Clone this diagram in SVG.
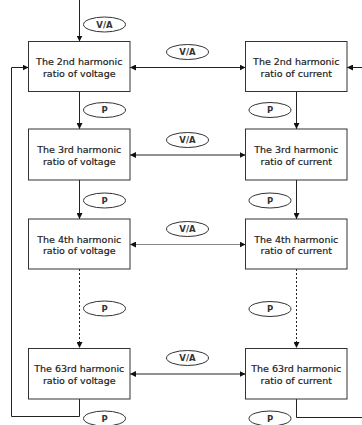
<svg xmlns="http://www.w3.org/2000/svg" width="362" height="425" viewBox="0 0 362 425">
<style>
.box{fill:#fff;stroke:#333;stroke-width:1}
.lbl{font-family:"DejaVu Sans",sans-serif;font-size:9.5px;fill:#222;stroke:#222;stroke-width:0.2;text-anchor:middle}
.tag{fill:#fff;stroke:#333;stroke-width:1}
.tt{font-family:"DejaVu Sans",sans-serif;font-size:8.5px;font-weight:bold;fill:#333;text-anchor:middle}
.ln{fill:none;stroke:#222;stroke-width:1}
.lg{fill:none;stroke:#888;stroke-width:1}
.dot{fill:none;stroke:#222;stroke-width:1;stroke-dasharray:2,2}
</style>
<defs>
<marker id="ah" viewBox="0 0 10 10" refX="10" refY="5" markerWidth="6" markerHeight="6" markerUnits="userSpaceOnUse" orient="auto-start-reverse">
<path d="M0,0 L10,5 L0,10 z" fill="#111"/>
</marker>
</defs>
<rect width="362" height="425" fill="#fff"/>
<g id="connectors">
<line class="ln" x1="79.5" y1="0" x2="79.5" y2="41.5" marker-end="url(#ah)"/>
<line class="ln" x1="79.5" y1="91.5" x2="79.5" y2="129" marker-end="url(#ah)"/>
<line class="ln" x1="296.5" y1="91.5" x2="296.5" y2="129" marker-end="url(#ah)"/>
<line class="ln" x1="79.5" y1="180" x2="79.5" y2="219" marker-end="url(#ah)"/>
<line class="ln" x1="296.5" y1="180" x2="296.5" y2="219" marker-end="url(#ah)"/>
<line class="dot" x1="79.5" y1="269" x2="79.5" y2="348" marker-end="url(#ah)"/>
<line class="dot" x1="296.5" y1="269" x2="296.5" y2="348" marker-end="url(#ah)"/>
<line class="ln" x1="130" y1="67.5" x2="245.5" y2="67.5" marker-start="url(#ah)" marker-end="url(#ah)"/>
<line class="ln" x1="130" y1="155" x2="245.5" y2="155" marker-start="url(#ah)" marker-end="url(#ah)"/>
<line class="lg" x1="130" y1="244.5" x2="245.5" y2="244.5" marker-start="url(#ah)" marker-end="url(#ah)"/>
<line class="ln" x1="130" y1="374" x2="245.5" y2="374" marker-start="url(#ah)" marker-end="url(#ah)"/>
<polyline class="ln" points="79.5,399 79.5,416.5 11.5,416.5 11.5,67.5 28.5,67.5" marker-end="url(#ah)"/>
<polyline class="ln" points="296.5,399 296.5,417.5 362,417.5"/>
<line class="ln" x1="362" y1="67.5" x2="347" y2="67.5" marker-end="url(#ah)"/>
<g id="tags">
<ellipse class="tag" cx="104.5" cy="24.5" rx="21" ry="7.5"/><text class="tt" x="104.5" y="27.5">V/A</text>
<ellipse class="tag" cx="187.5" cy="52" rx="21" ry="7.5"/><text class="tt" x="187.5" y="55">V/A</text>
<ellipse class="tag" cx="187.5" cy="140" rx="21" ry="7.5"/><text class="tt" x="187.5" y="143">V/A</text>
<ellipse class="tag" cx="187.5" cy="229" rx="21" ry="7.5"/><text class="tt" x="187.5" y="232">V/A</text>
<ellipse class="tag" cx="187.5" cy="358" rx="21" ry="7.5"/><text class="tt" x="187.5" y="361">V/A</text>
<ellipse class="tag" cx="104.5" cy="110" rx="21" ry="7.5"/><text class="tt" x="104.5" y="113">P</text>
<ellipse class="tag" cx="270" cy="110" rx="21" ry="7.5"/><text class="tt" x="270" y="113">P</text>
<ellipse class="tag" cx="104.5" cy="200.5" rx="21" ry="7.5"/><text class="tt" x="104.5" y="203.5">P</text>
<ellipse class="tag" cx="270" cy="200.5" rx="21" ry="7.5"/><text class="tt" x="270" y="203.5">P</text>
<ellipse class="tag" cx="104.5" cy="308.5" rx="21" ry="7.5"/><text class="tt" x="104.5" y="311.5">P</text>
<ellipse class="tag" cx="270" cy="309" rx="21" ry="7.5"/><text class="tt" x="270" y="312">P</text>
<ellipse class="tag" cx="104.5" cy="418.5" rx="21" ry="7.5"/><text class="tt" x="104.5" y="421.5">P</text>
<ellipse class="tag" cx="270" cy="418.5" rx="21" ry="7.5"/><text class="tt" x="270" y="421.5">P</text>
</g>
</g>
<g id="v2"><rect class="box" x="28.5" y="41.5" width="101.5" height="50"/><text class="lbl" x="79.25" y="65">The 2nd harmonic</text><text class="lbl" x="79.25" y="76.5">ratio of voltage</text></g>
<g id="c2"><rect class="box" x="245.5" y="41.5" width="101.5" height="50"/><text class="lbl" x="296.25" y="65">The 2nd harmonic</text><text class="lbl" x="296.25" y="76.5">ratio of current</text></g>
<g id="v3"><rect class="box" x="28.5" y="129" width="101.5" height="51"/><text class="lbl" x="79.25" y="153">The 3rd harmonic</text><text class="lbl" x="79.25" y="164.5">ratio of voltage</text></g>
<g id="c3"><rect class="box" x="245.5" y="129" width="101.5" height="51"/><text class="lbl" x="296.25" y="153">The 3rd harmonic</text><text class="lbl" x="296.25" y="164.5">ratio of current</text></g>
<g id="v4"><rect class="box" x="28.5" y="219" width="101.5" height="50"/><text class="lbl" x="79.25" y="242.5">The 4th harmonic</text><text class="lbl" x="79.25" y="254">ratio of voltage</text></g>
<g id="c4"><rect class="box" x="245.5" y="219" width="101.5" height="50"/><text class="lbl" x="296.25" y="242.5">The 4th harmonic</text><text class="lbl" x="296.25" y="254">ratio of current</text></g>
<g id="v63"><rect class="box" x="28.5" y="348.5" width="101.5" height="50.5"/><text class="lbl" x="79.25" y="372">The 63rd harmonic</text><text class="lbl" x="79.25" y="383.5">ratio of voltage</text></g>
<g id="c63"><rect class="box" x="245.5" y="348.5" width="101.5" height="50.5"/><text class="lbl" x="296.25" y="372">The 63rd harmonic</text><text class="lbl" x="296.25" y="383.5">ratio of current</text></g>
</svg>
